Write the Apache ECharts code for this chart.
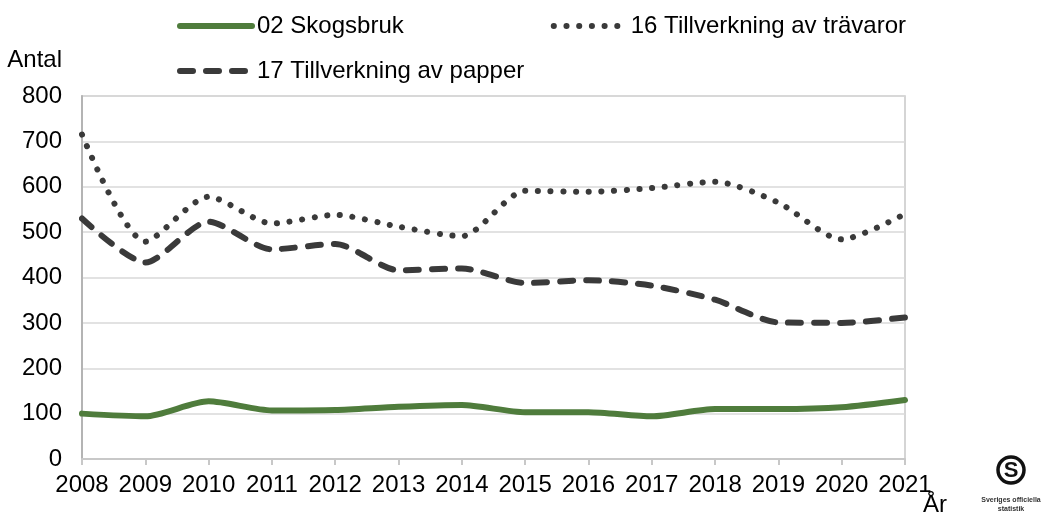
<!DOCTYPE html>
<html>
<head>
<meta charset="utf-8">
<script src="https://cdn.jsdelivr.net/npm/echarts@6/dist/echarts.min.js"></script>
<style>
html,body{margin:0;padding:0;background:#fff;}
#chart{width:1055px;height:518px;}
</style>
</head>
<body>
<div id="chart"></div>
<script>
var years = ['2008','2009','2010','2011','2012','2013','2014','2015','2016','2017','2018','2019','2020','2021'];
var skogsbruk = [100, 94, 127, 107, 108, 115, 119, 103, 103, 94, 110, 110, 114, 130];
var travaror = [715, 479, 578, 519, 538, 512, 491, 591, 589, 597, 611, 565, 484, 540];
var papper = [530, 433, 523, 462, 474, 416, 420, 388, 394, 382, 351, 301, 300, 312];
var yTicks = [0, 100, 200, 300, 400, 500, 600, 700, 800];

var FONT = 'Liberation Sans, Arial, sans-serif';
var GREEN = '#4f7c3c', DARK = '#3a3a3a';
var styleGreen = {color: GREEN, width: 6, cap: 'round', join: 'round'};
var styleDot = {color: DARK, width: 6, type: [0.1, 12.6], cap: 'round'};
var styleDash = {color: DARK, width: 6, type: [13, 13], cap: 'round'};

var chart = echarts.init(document.getElementById('chart'), null, {renderer: 'canvas'});
var legendText = {fontFamily: FONT, fontSize: 24, color: '#000', padding: [0,0,0,0]};
var hiddenSym = {opacity: 0};
var option = {
  backgroundColor: '#ffffff',
  animation: false,
  textStyle: {fontFamily: FONT, color: '#000'},
  grid: {left: 82, right: 150, top: 96, bottom: 59, show: true, borderColor: '#c8c8c8', borderWidth: 1.5},
  legend: [
    {
      data: [
        {name: '02 Skogsbruk', itemStyle: hiddenSym, lineStyle: styleGreen},
        {name: '16 Tillverkning av trävaror', itemStyle: hiddenSym, lineStyle: styleDot}
      ],
      left: 177, top: 14, padding: 0, itemWidth: 72, itemHeight: 14, itemGap: 147,
      textStyle: legendText
    },
    {
      data: [
        {name: '17 Tillverkning av papper', itemStyle: hiddenSym, lineStyle: styleDash}
      ],
      left: 177, top: 59, padding: 0, itemWidth: 72, itemHeight: 14,
      textStyle: legendText
    }
  ],
  xAxis: {
    type: 'category', data: years, boundaryGap: false,
    name: 'År', nameLocation: 'end', nameGap: 18, nameMoveOverlap: false,
    nameTextStyle: {fontFamily: FONT, fontSize: 24, color: '#000', align: 'left', verticalAlign: 'top', padding: [34,0,0,0]},
    axisLine: {lineStyle: {color: '#c8c8c8', width: 2}},
    axisTick: {show: true, inside: false, length: 6, lineStyle: {color: '#c8c8c8', width: 2}},
    axisLabel: {fontFamily: FONT, fontSize: 24, color: '#000', margin: 14, interval: 0},
    splitLine: {show: false}
  },
  yAxis: {
    type: 'value', min: 0, max: 800, interval: 100,
    name: 'Antal', nameLocation: 'end', nameGap: 24,
    nameTextStyle: {fontFamily: FONT, fontSize: 24, color: '#000', align: 'right', padding: [0,20,0,0]},
    axisLine: {show: true, lineStyle: {color: '#b4b4b4', width: 2}},
    axisTick: {show: false},
    axisLabel: {fontFamily: FONT, fontSize: 24, color: '#000', margin: 20,
      formatter: function (v) { return yTicks.indexOf(v) >= 0 ? String(v) : ''; }},
    splitLine: {lineStyle: {color: '#d9d9d9', width: 1.5}}
  },
  series: [
    {name: '02 Skogsbruk', type: 'line', data: skogsbruk, smooth: 0.25, symbol: 'none', color: GREEN, lineStyle: styleGreen},
    {name: '16 Tillverkning av trävaror', type: 'line', data: travaror, smooth: 0.25, symbol: 'none', color: DARK, lineStyle: styleDot},
    {name: '17 Tillverkning av papper', type: 'line', data: papper, smooth: 0.25, symbol: 'none', color: DARK, lineStyle: styleDash}
  ],
  graphic: [
    {type: 'circle', shape: {cx: 1011, cy: 470, r: 13}, style: {fill: 'none', stroke: '#111', lineWidth: 3.5}},
    {type: 'text', style: {text: 'S', x: 1011, y: 471, fontSize: 22, fontWeight: 'bold', fontFamily: FONT, fill: '#111', align: 'center', verticalAlign: 'middle'}},
    {type: 'text', style: {text: 'Sveriges officiella', x: 1011, y: 500, fontSize: 7, fontWeight: 'bold', fontFamily: FONT, fill: '#333', align: 'center', verticalAlign: 'middle'}},
    {type: 'text', style: {text: 'statistik', x: 1011, y: 509, fontSize: 7, fontWeight: 'bold', fontFamily: FONT, fill: '#333', align: 'center', verticalAlign: 'middle'}}
  ]
};
chart.setOption(option);
</script>
</body>
</html>
